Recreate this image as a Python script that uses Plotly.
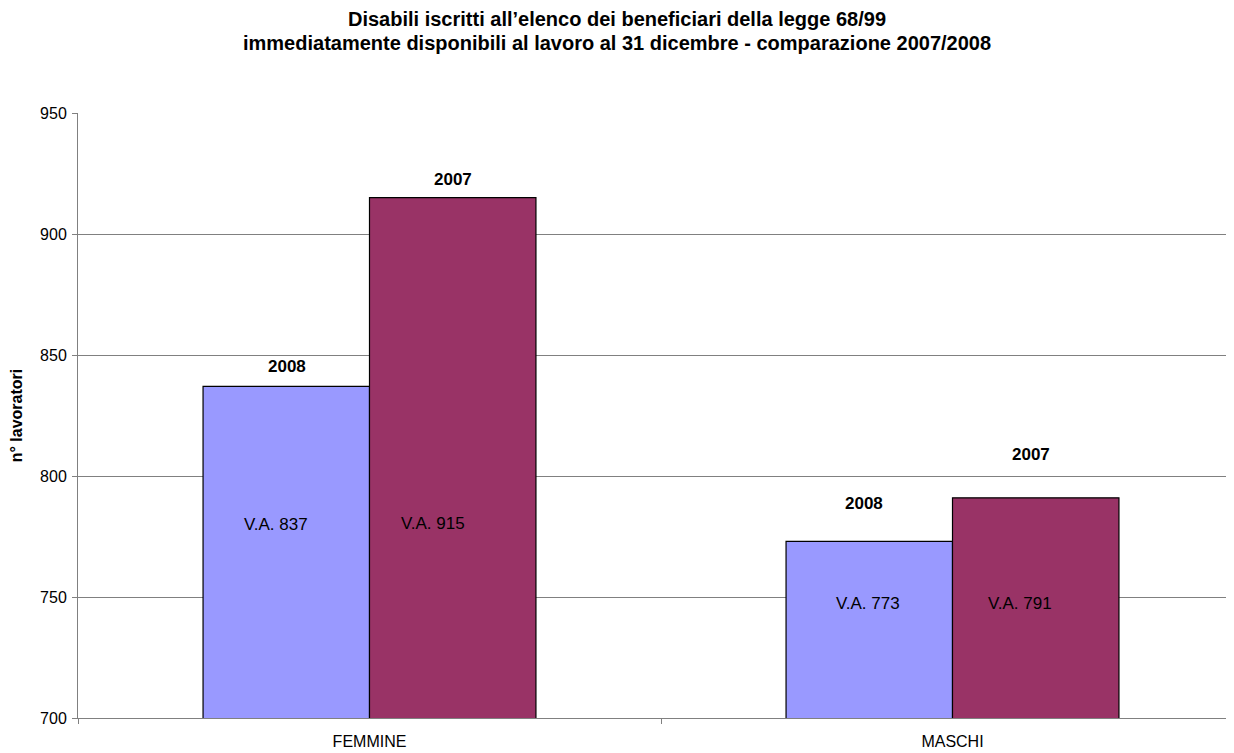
import plotly.graph_objects as go

categories = ["FEMMINE", "MASCHI"]
years = ["2008", "2007"]
values_2008 = [837, 773]
values_2007 = [915, 791]
colors = {"2008": "#9999FF", "2007": "#993366"}

title_lines = [
    "Disabili iscritti all\u2019elenco dei beneficiari della legge 68/99",
    "immediatamente disponibili al lavoro al 31 dicembre - comparazione 2007/2008",
]

fig = go.Figure()
for year, vals in zip(years, [values_2008, values_2007]):
    fig.add_trace(
        go.Bar(
            x=categories,
            y=vals,
            name=year,
            marker=dict(color=colors[year], line=dict(color="black", width=1.2)),
        )
    )

# label placement copied from the original sheet (pixel offsets)
bar_dx = {"2008": -83, "2007": 83}
year_pos = {  # (xshift, yshift above bar top)
    ("2008", 0): (0, 20), ("2007", 0): (0, 18),
    ("2008", 1): (-6, 38), ("2007", 1): (-5, 43),
}
va_pos = {  # (xshift from bar centre, yshift above axis bottom)
    ("2008", 0): (-11, 194), ("2007", 0): (-20, 195),
    ("2008", 1): (-2, 115), ("2007", 1): (-16, 115),
}
for year, vals in zip(years, [values_2008, values_2007]):
    for i, cat in enumerate(categories):
        dx, dy = year_pos[(year, i)]
        fig.add_annotation(
            x=cat, y=vals[i], xref="x", yref="y",
            text=f"<b>{year}</b>", showarrow=False,
            xshift=bar_dx[year] + dx, yshift=dy,
            font=dict(size=17, color="black"),
        )
        dx, dy = va_pos[(year, i)]
        fig.add_annotation(
            x=cat, y=700, xref="x", yref="y",
            text=f"V.A. {vals[i]}", showarrow=False,
            xshift=bar_dx[year] + dx, yshift=dy,
            font=dict(size=17, color="black"),
        )

# two-line bold title, centred on the page
for line, ypos in zip(title_lines, [1.155, 1.116]):
    fig.add_annotation(
        x=(609 - 70) / 1156, y=ypos, xref="paper", yref="paper",
        text=f"<b>{line}</b>", showarrow=False,
        xanchor="center", yanchor="middle",
        font=dict(size=20, color="black"),
    )

fig.update_layout(
    width=1226,
    height=745,
    barmode="group",
    bargap=0.429,
    bargroupgap=0,
    showlegend=False,
    plot_bgcolor="white",
    paper_bgcolor="white",
    font=dict(family="Liberation Sans, Arial, sans-serif", color="black"),
    margin=dict(l=70, r=0, t=105, b=35),
)
fig.update_xaxes(
    type="category",
    range=[-0.5, -0.5 + 1156 / 583],
    showline=True, linecolor="#808080", linewidth=1,
    ticks="outside", tickson="boundaries", ticklen=5, tickcolor="#808080",
    ticklabelstandoff=9,
    showgrid=False,
    tickfont=dict(size=16),
    automargin=False,
)
fig.update_yaxes(
    range=[700, 950],
    dtick=50,
    showline=True, linecolor="#808080", linewidth=1,
    ticks="outside", ticklen=5, tickcolor="#808080",
    ticklabelstandoff=2,
    showgrid=True, gridcolor="#808080", gridwidth=1,
    tickfont=dict(size=16),
    title=dict(text="<b>n\u00b0 lavoratori</b>", font=dict(size=16), standoff=13),
    zeroline=False,
    automargin=False,
)

fig.write_html("out.html")
